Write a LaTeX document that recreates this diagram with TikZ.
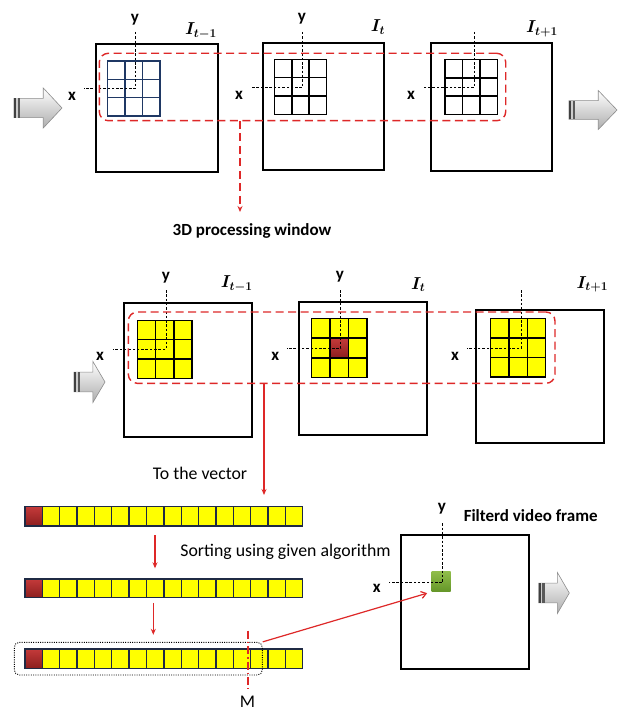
\documentclass[tikz,border=0pt]{standalone}
\usepackage{amsmath}
\usepackage{bm}
\usepackage{fontspec}
\setmainfont{Carlito}
\setsansfont{Carlito}
\usetikzlibrary{fit,arrows.meta}
\definecolor{rd}{RGB}{222,40,40}
\definecolor{navy}{RGB}{31,42,68}
\definecolor{gridblue}{RGB}{31,56,100}
\definecolor{yel}{RGB}{255,255,0}
\definecolor{redA}{RGB}{196,58,58}
\definecolor{redB}{RGB}{140,30,30}
\definecolor{grnA}{RGB}{145,190,75}
\definecolor{grnB}{RGB}{100,150,40}

\newcommand{\gridlines}[5]{%
  \draw[#5, line width=1.5pt] (#1,#2) rectangle (#3,#4);
  \foreach \gi in {1,2}{
    \draw[#5, line width=1.5pt] ({#1+\gi*(#3-#1)/3},#2) -- ({#1+\gi*(#3-#1)/3},#4);
    \draw[#5, line width=1.5pt] (#1,{#2+\gi*(#4-#2)/3}) -- (#3,{#2+\gi*(#4-#2)/3});
  }}
\newcommand{\vecrow}[3]{%
  \node[fit={(25,#2) (302.7,#3)}, inner sep=0pt] (#1) {};
  \fill[yel] (42.35,#2) rectangle (302.7,#3);
  \shade[top color=redA, bottom color=redB] (25,#2) rectangle (42.35,#3);
  \foreach \vi in {0,...,15}{
    \draw[navy, line width=1.3pt] ({25+\vi*17.356},#2) rectangle ({25+(\vi+1)*17.356},#3);
  }}
\newcommand{\blockarr}[4]{%
  \shade[top color=white, bottom color=black!32, draw=black!45, line width=0.6pt]
    (#1,{#2-0.24*#4}) -- ({#1+0.61*#3},{#2-0.24*#4}) -- ({#1+0.61*#3},{#2-0.5*#4})
    -- ({#1+#3},#2) -- ({#1+0.61*#3},{#2+0.5*#4}) -- ({#1+0.61*#3},{#2+0.24*#4})
    -- (#1,{#2+0.24*#4}) -- cycle;
  \fill[black!75] (#1,{#2-0.24*#4}) rectangle ({#1+2.2},{#2+0.24*#4});
  \fill[black!20] ({#1+2.2},{#2-0.24*#4}) rectangle ({#1+3.6},{#2+0.24*#4});
  \fill[black!65] ({#1+3.6},{#2-0.24*#4}) rectangle ({#1+5.8},{#2+0.24*#4});
}

\begin{document}
\begin{tikzpicture}[x=1pt,y=-1pt,
  frame/.style={draw=black, line width=1.9pt, inner sep=0pt},
  win/.style={draw=rd, line width=1.4pt, dash pattern=on 8pt off 4.5pt, rounded corners=9pt, inner sep=0pt},
  guide/.style={draw=black, line width=0.55pt, dash pattern=on 2.5pt off 1.8pt},
  lab/.style={font=\fontsize{17}{20}\selectfont\bfseries, inner sep=0pt},
  ilab/.style={font=\fontsize{17}{20}\selectfont, inner sep=0pt},
  txt/.style={font=\fontsize{17.8}{21}\selectfont, inner sep=0pt},
  btxt/.style={font=\fontsize{17}{20}\selectfont\bfseries, inner sep=0pt},
  redarrow/.style={draw=rd, line width=1.2pt, -{Stealth[length=6pt,width=5pt]}},
  reddasharrow/.style={draw=rd, line width=1.4pt, dash pattern=on 8pt off 4.5pt, -{Stealth[length=6pt,width=5pt]}},
  barbarrow/.style={draw=rd, line width=1.2pt, -{Straight Barb[length=5pt,width=7pt]}},
  mline/.style={draw=rd, line width=1.6pt, dash pattern=on 8pt off 3pt on 1.5pt off 3pt},
]
\useasboundingbox (0,0) rectangle (619,711);
\fill[white] (0,0) rectangle (619,711);

% ---------------- top row ----------------
\node[frame, fit={(96,44) (218,172)}] (f1) {};
\node[frame, fit={(263,43) (384,170)}] (f2) {};
\node[frame, fit={(431,43) (552,171)}] (f3) {};
\gridlines{107.3}{61}{160}{116}{gridblue}
\gridlines{274.3}{59.3}{326.7}{114.3}{black}
\gridlines{445}{59.7}{497.3}{114.3}{black}
\draw[guide] (135,32) -- (135,88.7) -- (84,88.7);
\draw[guide] (302.3,32) -- (302.3,87.5) -- (251,87.5);
\draw[guide] (474,32) -- (474,87.5) -- (423,87.5);
\node[lab] (ty1) at (135,20) {y};
\node[lab] (tx1) at (72,96) {x};
\node[lab] (ty2) at (302,19) {y};
\node[lab] (tx2) at (239,95) {x};
\node[lab] (tx3) at (411,95) {x};
\node[ilab] (ti1) at (201,31) {$\bm{I_{t{-}1}}$};
\node[ilab] (ti2) at (378,27) {$\bm{I_{t}}$};
\node[ilab] (ti3) at (542,29) {$\bm{I_{t{+}1}}$};
\node[win, fit={(99.3,53.3) (505.7,120.7)}] (w1) {};
\coordinate (p1) at (240,121);
\coordinate (p2) at (240,212);
\draw[reddasharrow] (p1) -- (p2);
\node[btxt] (t3d) at (252,231) {3D processing window};
\blockarr{14}{108}{48}{40}
\blockarr{569}{110}{48}{39}

% ---------------- middle row ----------------
\node[frame, fit={(124.3,302.7) (252.3,436.7)}] (m1) {};
\node[frame, fit={(299.3,301.7) (427.3,435.3)}] (m2) {};
\node[frame, fit={(476,310) (604.3,443.3)}] (m3) {};
\fill[yel] (137.3,320.3) rectangle (192,378.3);
\fill[yel] (311.7,318.7) rectangle (367,377.3);
\shade[top color=redA, bottom color=redB] (330.1,338.2) rectangle (348.6,357.8);
\fill[yel] (490.7,318.7) rectangle (545.7,377);
\gridlines{137.3}{320.3}{192}{378.3}{black}
\gridlines{311.7}{318.7}{367}{377.3}{black}
\gridlines{490.7}{318.7}{545.7}{377}{black}
\draw[guide] (166,290) -- (166,349.3) -- (113.3,349.3);
\draw[guide] (340.7,290) -- (340.7,348.3) -- (287,348.3);
\draw[guide] (521,290) -- (521,348.3) -- (467.3,348.3);
\node[lab] (my1) at (166,278) {y};
\node[lab] (mx1) at (100,356.7) {x};
\node[lab] (my2) at (340,277) {y};
\node[lab] (mx2) at (275.3,356) {x};
\node[lab] (mx3) at (455,356.7) {x};
\node[ilab] (mi1) at (236.7,284) {$\bm{I_{t{-}1}}$};
\node[ilab] (mi2) at (418.3,284.5) {$\bm{I_{t}}$};
\node[ilab] (mi3) at (592.3,284.5) {$\bm{I_{t{+}1}}$};
\node[win, fit={(128.3,312) (555,383.3)}] (w2) {};
\blockarr{74}{382}{31}{41}

% ---------------- bottom ----------------
\node[txt] (ttv) at (200,473) {To the vector};
\vecrow{v1}{506.7}{526}
\vecrow{v2}{579}{597.7}
\vecrow{v3}{649}{668.3}
\coordinate (p3) at (264,383.3);
\coordinate (p4) at (264,495);
\draw[redarrow] (p3) -- (p4);
\coordinate (c1) at (155,0);
\coordinate (c2) at (153.3,0);
\draw[redarrow, shorten <=9pt, shorten >=10.5pt] (v1.south -| c1) -- (v2.north -| c1);
\draw[redarrow, shorten <=5pt, shorten >=14pt] (v2.south -| c2) -- (v3.north -| c2);
\node[txt] (tsort) at (285.5,551.5) {Sorting using given algorithm};
\node[draw=black, line width=0.9pt, dash pattern=on 1pt off 1.3pt, rounded corners=5pt,
      inner sep=0pt, fit={(14.3,642.3) (262.3,675)}] (db) {};
\coordinate (mt) at (247.7,630.7);
\coordinate (mb) at (247.7,688.3);
\draw[mline] (mt) -- (mb);
\node[txt] (tm) at (247.5,701.5) {M};

\node[frame, fit={(400.7,535.3) (528.7,668.7)}] (ff) {};
\node[inner sep=0pt, top color=grnA, bottom color=grnB, fit={(431.7,571) (450.7,591.7)}] (gs) {};
\draw[guide] (442.7,523.3) -- (442.7,582.7) -- (389.3,582.7);
\node[lab] (fy) at (442,508.3) {y};
\node[lab] (fx) at (376.7,588.3) {x};
\node[btxt] (tff) at (530.7,516) {Filterd video frame};
\draw[barbarrow, shorten >=4.5pt] (db.north east) -- (gs.south west);
\blockarr{538.7}{593}{30.6}{41}
\end{tikzpicture}
\end{document}
